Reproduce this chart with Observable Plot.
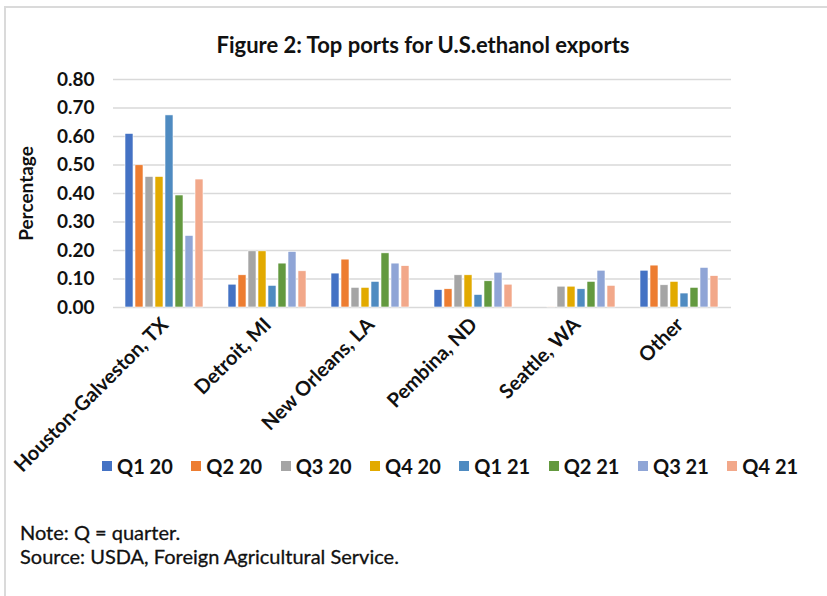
<!DOCTYPE html>
<html>
<head>
<meta charset="utf-8">
<script src="https://cdn.jsdelivr.net/npm/d3@7"></script>
<script src="https://cdn.jsdelivr.net/npm/@observablehq/plot@0.6"></script>
<style>
  html, body { margin: 0; padding: 0; background: #fff; }
  body { width: 827px; height: 596px; overflow: hidden; position: relative; font-family: Lato, "Open Sans", sans-serif; }
  #frame { position: absolute; left: 4px; top: 6px; width: 840px; height: 610px; border: 2px solid #dadada; box-sizing: border-box; }
  #title { position: absolute; top: 31px; left: 0; width: 846px; text-align: center; font-size: 22px; font-weight: bold; color: #111; }
  #chart { position: absolute; left: 0; top: 50px; }
  #legend { position: absolute; left: 102px; top: 454px; display: flex; gap: 18.5px; font-size: 20px; font-weight: bold; color: #111; }
  #legend .item { display: flex; align-items: center; gap: 5px; }
  #legend .sw { width: 10px; height: 10px; display: inline-block; }
  #notes { position: absolute; left: 20px; top: 520px; font-size: 20px; line-height: 24px; color: #111; -webkit-text-stroke: 0.3px #111; }
</style>
</head>
<body>
<div id="frame"></div>
<div id="title">Figure 2: Top ports for U.S.ethanol exports</div>
<div id="chart"></div>
<div id="legend"></div>
<div id="notes">Note: Q = quarter.<br>Source: USDA, Foreign Agricultural Service.</div>
<script>
const ports = ["Houston-Galveston, TX", "Detroit, MI", "New Orleans, LA", "Pembina, ND", "Seattle, WA", "Other"];
const quarters = ["Q1 20", "Q2 20", "Q3 20", "Q4 20", "Q1 21", "Q2 21", "Q3 21", "Q4 21"];
const colors = ["#4472C4", "#ED7D31", "#A5A5A5", "#E2AA00", "#4F8BC1", "#63993F", "#8FA5D6", "#F2A88A"];
// values per quarter, in port order
const q1_20 = [0.609, 0.080, 0.119, 0.061, 0.000, 0.129];
const q2_20 = [0.499, 0.113, 0.168, 0.064, 0.002, 0.147];
const q3_20 = [0.458, 0.197, 0.069, 0.113, 0.073, 0.078];
const q4_20 = [0.458, 0.197, 0.069, 0.113, 0.073, 0.090];
const q1_21 = [0.674, 0.076, 0.090, 0.044, 0.064, 0.049];
const q2_21 = [0.393, 0.154, 0.190, 0.092, 0.090, 0.069];
const q3_21 = [0.251, 0.195, 0.154, 0.122, 0.129, 0.139];
const q4_21 = [0.449, 0.127, 0.145, 0.080, 0.076, 0.110];
const yTicks = [0, 0.1, 0.2, 0.3, 0.4, 0.5, 0.6, 0.7, 0.8];

const series = [q1_20, q2_20, q3_20, q4_20, q1_21, q2_21, q3_21, q4_21];
const data = [];
series.forEach((vals, qi) => vals.forEach((v, pi) => data.push({port: ports[pi], quarter: quarters[qi], value: v})));

const plot = Plot.plot({
  width: 827,
  height: 440,
  marginTop: 29,
  marginBottom: 183,
  marginLeft: 110,
  marginRight: 94,
  style: {fontFamily: "Lato, 'Open Sans', sans-serif", fontWeight: "bold", fontSize: "19px", color: "#111", background: "transparent"},
  fx: {domain: ports, padding: 0},
  x: {domain: quarters, paddingInner: 0.17, paddingOuter: 0.91, axis: null},
  y: {domain: [0, 0.8]},
  color: {domain: quarters, range: colors},
  marks: [
    Plot.gridY(yTicks, {stroke: "#d9d9d9", strokeOpacity: 1, strokeWidth: 1.6}),
    Plot.axisY(yTicks, {tickSize: 0, tickPadding: 19, tickFormat: d3.format(".2f"), label: "Percentage", labelAnchor: "center", labelArrow: "none", labelOffset: 94}),
    Plot.axisFx({anchor: "bottom", tickRotate: -45, tickSize: 0, tickPadding: 14, fontSize: 20, label: null}),
    Plot.barY(data, {fx: "port", x: "quarter", y: "value", fill: "quarter", stroke: "white", strokeWidth: 0.6})
  ]
});
document.getElementById("chart").appendChild(plot);

const legend = document.getElementById("legend");
quarters.forEach((q, i) => {
  const item = document.createElement("div");
  item.className = "item";
  const sw = document.createElement("span");
  sw.className = "sw";
  sw.style.background = colors[i];
  const t = document.createElement("span");
  t.textContent = q;
  item.appendChild(sw);
  item.appendChild(t);
  legend.appendChild(item);
});
</script>
</body>
</html>
